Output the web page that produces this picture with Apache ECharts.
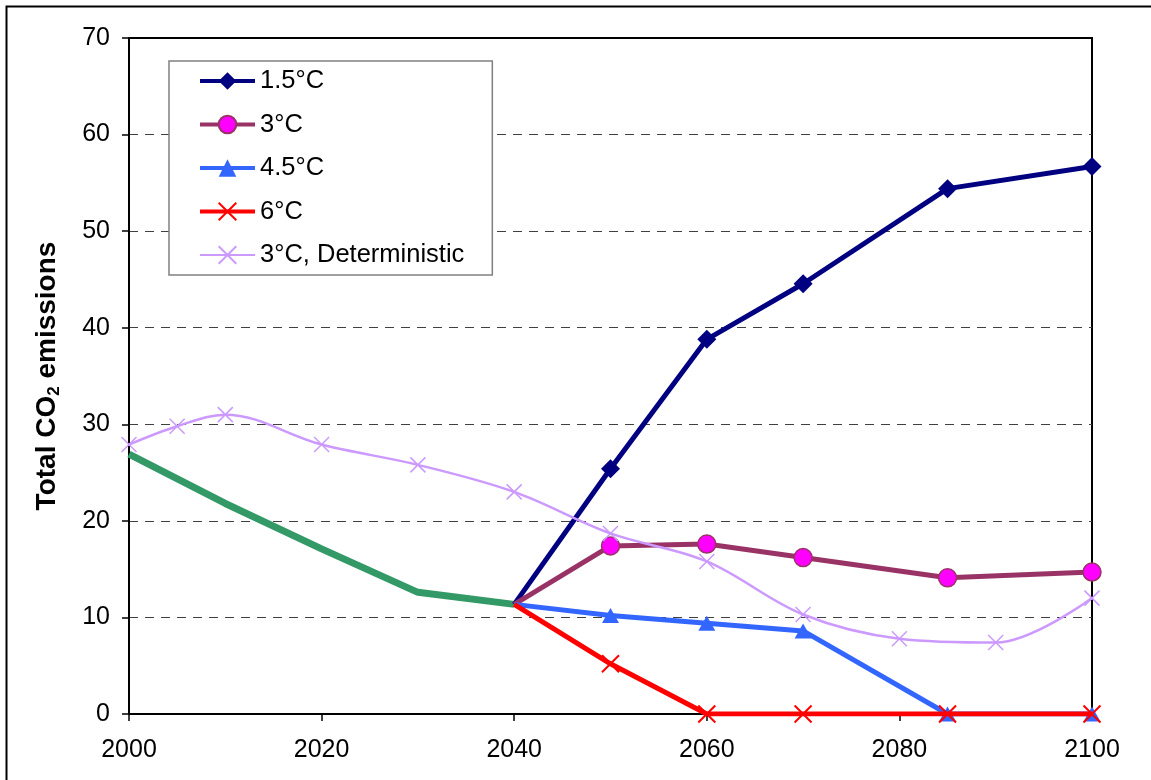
<!DOCTYPE html>
<html>
<head>
<meta charset="utf-8">
<script src="https://cdn.jsdelivr.net/npm/echarts@6/dist/echarts.min.js"></script>
<style>
html,body{margin:0;padding:0;background:#fff;}
#chart{width:1151px;height:780px;}
</style>
</head>
<body>
<div id="chart"></div>
<script>
// ---- data ----
const histYears = [2000, 2010, 2020, 2030, 2040];
const histValues = [26.9, 21.8, 17.1, 12.6, 11.35];
const scenarioYears = [2040, 2050, 2060, 2070, 2085, 2100];
const s15Values = [11.35, 25.4, 38.8, 44.55, 54.4, 56.7];
const s3Values = [11.35, 17.4, 17.6, 16.2, 14.1, 14.7];
const s45Values = [11.35, 10.2, 9.4, 8.6, 0, 0];
const s6Values = [11.35, 5.2, 0, 0, 0, 0];
const detYears = [2000, 2005, 2010, 2020, 2030, 2040, 2050, 2060, 2070, 2080, 2090, 2100];
const detValues = [27.9, 29.8, 31.0, 27.9, 25.8, 23.0, 18.7, 15.8, 10.3, 7.8, 7.4, 12.0];
const seriesNames = ['1.5°C', '3°C', '4.5°C', '6°C', '3°C, Deterministic'];

const FONT = "'Liberation Sans', Arial, sans-serif";
const X_PATH = 'path://M0,0L10,10M10,0L0,10';

function pairs(xs, ys, skipFirstSymbol) {
  return xs.map((x, i) => {
    if (skipFirstSymbol && i === 0) return { value: [x, ys[i]], symbol: 'none' };
    return [x, ys[i]];
  });
}

const chart = echarts.init(document.getElementById('chart'), null, { renderer: 'canvas' });
chart.setOption({
  animation: false,
  backgroundColor: '#fff',
  textStyle: { fontFamily: FONT },
  graphic: [{
    type: 'rect', z: 100, silent: true,
    shape: { x: 6.5, y: 6.5, width: 1200, height: 900 },
    style: { fill: 'none', stroke: '#000', lineWidth: 2 }
  }],
  grid: {
    left: 129, top: 38, right: 59, bottom: 66,
    show: true, borderColor: '#000', borderWidth: 2, backgroundColor: 'transparent'
  },
  legend: {
    data: [
      { name: seriesNames[0], lineStyle: { width: 4 } },
      { name: seriesNames[1], lineStyle: { width: 4 } },
      { name: seriesNames[2], lineStyle: { width: 4 } },
      { name: seriesNames[3], lineStyle: { width: 4 } },
      { name: seriesNames[4], lineStyle: { width: 2 } }
    ],
    orient: 'vertical',
    left: 169, top: 61,
    padding: [7, 28, 7, 29],
    itemGap: 17.5,
    itemWidth: 55, itemHeight: 22,
    backgroundColor: '#fff',
    borderColor: '#808080', borderWidth: 1.5,
    textStyle: { fontSize: 25.5, color: '#000', fontFamily: FONT }
  },
  xAxis: {
    type: 'value', min: 2000, max: 2100, interval: 20,
    axisLine: { show: true, onZero: false, lineStyle: { color: '#000', width: 2 } },
    axisTick: { show: true, inside: false, length: 7, lineStyle: { color: '#000', width: 1.5 } },
    axisLabel: { fontSize: 25, color: '#000', margin: 24, fontFamily: FONT, formatter: v => String(v) },
    splitLine: { show: false }
  },
  yAxis: {
    type: 'value', min: 0, max: 70, interval: 10,
    name: '{a|Total CO}{s|2}{a| emissions}',
    nameLocation: 'middle', nameRotate: 90, nameGap: 66,
    nameTextStyle: {
      fontFamily: FONT,
      rich: {
        a: { fontSize: 28, fontWeight: 'bold', color: '#000', fontFamily: FONT, lineHeight: 32 },
        s: { fontSize: 17, fontWeight: 'bold', color: '#000', fontFamily: FONT, lineHeight: 17, verticalAlign: 'bottom' }
      }
    },
    axisLine: { show: true, lineStyle: { color: '#000', width: 2 } },
    axisTick: { show: true, inside: false, length: 7, lineStyle: { color: '#000', width: 1.5 } },
    axisLabel: { fontSize: 25, color: '#000', margin: 19, fontFamily: FONT },
    splitLine: { show: true, showMinLine: false, showMaxLine: false, lineStyle: { color: '#404040', type: [9, 7], width: 1 } }
  },
  series: [
    {
      name: 'history', type: 'line', symbol: 'none', z: 2,
      data: pairs(histYears, histValues, false),
      lineStyle: { color: '#339966', width: 7 },
      itemStyle: { color: '#339966' }
    },
    {
      name: seriesNames[0], type: 'line', z: 3,
      symbol: 'diamond', symbolSize: 19,
      data: pairs(scenarioYears, s15Values, true),
      lineStyle: { color: '#000080', width: 5 },
      itemStyle: { color: '#000080' }
    },
    {
      name: seriesNames[1], type: 'line', z: 3,
      symbol: 'circle', symbolSize: 18,
      data: pairs(scenarioYears, s3Values, true),
      lineStyle: { color: '#993366', width: 5 },
      itemStyle: { color: '#FF00FF', borderColor: '#993366', borderWidth: 1.5 }
    },
    {
      name: seriesNames[2], type: 'line', z: 3,
      symbol: 'triangle', symbolSize: [17, 15],
      data: pairs(scenarioYears, s45Values, true),
      lineStyle: { color: '#3366FF', width: 5 },
      itemStyle: { color: '#3366FF' }
    },
    {
      name: seriesNames[3], type: 'line', z: 4,
      symbol: X_PATH, symbolSize: 17,
      data: pairs(scenarioYears, s6Values, true),
      lineStyle: { color: '#FF0000', width: 5 },
      itemStyle: { color: '#FF0000', borderColor: '#FF0000', borderWidth: 2 }
    },
    {
      name: seriesNames[4], type: 'line', z: 5,
      symbol: X_PATH, symbolSize: 15, smooth: 0.35,
      data: pairs(detYears, detValues, false),
      lineStyle: { color: '#CC99FF', width: 2.5 },
      itemStyle: { color: '#CC99FF', borderColor: '#CC99FF', borderWidth: 1.5 }
    }
  ]
});
</script>
</body>
</html>
